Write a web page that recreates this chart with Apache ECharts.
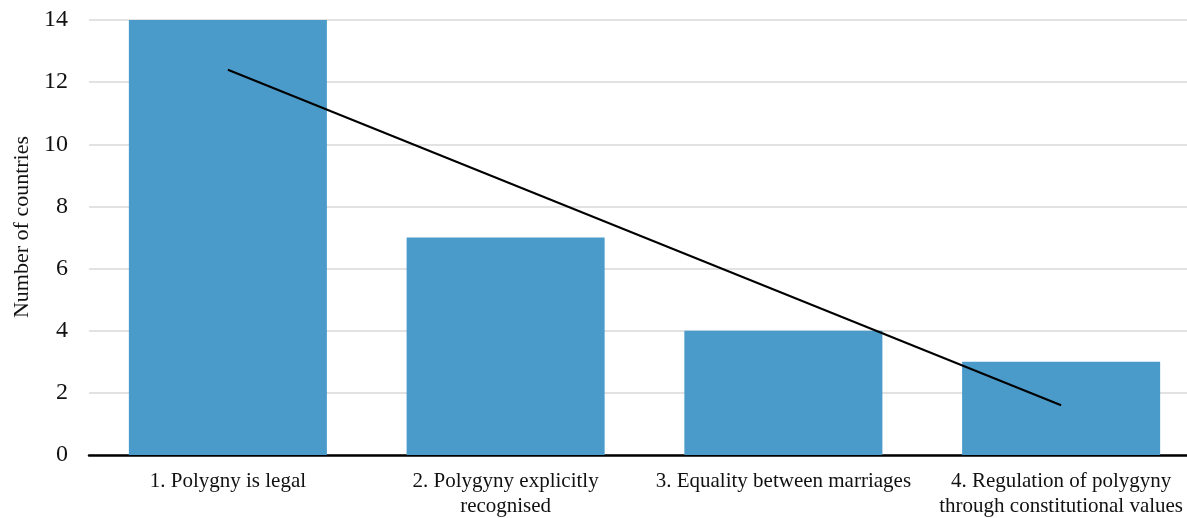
<!DOCTYPE html>
<html>
<head>
<meta charset="utf-8">
<script src="https://cdn.jsdelivr.net/npm/echarts@6/dist/echarts.min.js"></script>
<style>html,body{margin:0;padding:0;background:#fff}#c{width:1187px;height:518px}</style>
</head>
<body>
<div id="c"></div>
<script>
const categories = ["1. Polygny is legal", "2. Polygyny explicitly\nrecognised", "3. Equality between marriages", "4. Regulation of polygyny\nthrough constitutional values"];
const countries = [14, 7, 4, 3];
const trendPoints = [[0, 12.4], [3, 1.6]];
const yTicks = [0, 2, 4, 6, 8, 10, 12, 14];
const yName = "Number of countries";

const font = "'Liberation Serif', 'Times New Roman', serif";
const chart = echarts.init(document.getElementById('c'), null, {renderer: 'canvas'});
chart.setOption({
  animation: false,
  grid: {left: 89, right: -13, top: 20, bottom: 63, containLabel: false, outerBoundsMode: 'none'},
  xAxis: {
    type: 'category',
    data: categories,
    axisLine: {show: true, lineStyle: {color: '#000', width: 2.5}},
    axisTick: {show: false},
    axisLabel: {fontFamily: font, fontSize: 21, color: '#111', margin: 14, lineHeight: 25, interval: 0},
    splitLine: {show: false}
  },
  yAxis: {
    type: 'value',
    min: yTicks[0], max: yTicks[yTicks.length - 1], interval: 2,
    name: yName, nameLocation: 'middle', nameGap: 56, nameRotate: 90,
    nameTextStyle: {fontFamily: font, fontSize: 22, color: '#111', padding: [0, 0, 0, 21]},
    axisLine: {show: false},
    axisTick: {show: false},
    axisLabel: {fontFamily: font, fontSize: 24, color: '#111', margin: 21},
    splitLine: {show: true, lineStyle: {color: '#d9d9d9', width: 1.5}}
  },
  series: [
    {type: 'bar', data: countries, barWidth: '71.3%', itemStyle: {color: '#4a9bca'}, z: 2},
    {type: 'line', data: trendPoints, symbol: 'none', lineStyle: {color: '#000', width: 2}, z: 3}
  ]
});
</script>
</body>
</html>
